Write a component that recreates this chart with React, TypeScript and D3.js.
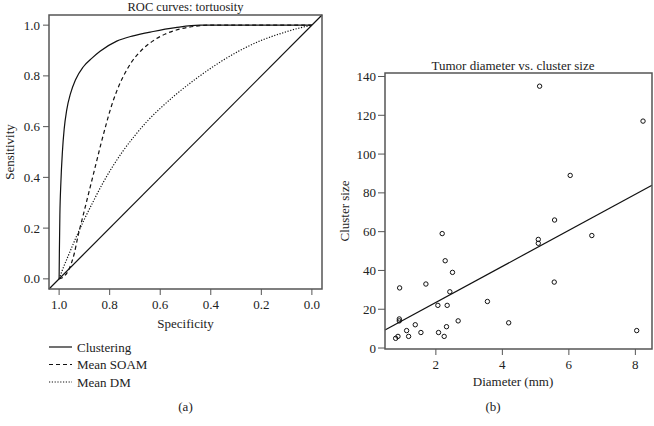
import * as React from "react";
import * as d3 from "d3";

// ROC curves, [specificity, sensitivity]
const clustering: [number, number][] = [
  [1, 0], [0.999, 0.1], [0.997, 0.25], [0.993, 0.38], [0.987, 0.5],
  [0.98, 0.59], [0.97, 0.665], [0.955, 0.73], [0.935, 0.785], [0.905, 0.835],
  [0.87, 0.87], [0.838, 0.897], [0.772, 0.937], [0.707, 0.958],
  [0.628, 0.975], [0.54, 0.99], [0.443, 1], [0, 1],
];
const meanSoam: [number, number][] = [
  [1, 0], [0.98, 0.01], [0.96, 0.04], [0.94, 0.1], [0.925, 0.17],
  [0.905, 0.25], [0.88, 0.35], [0.855, 0.45], [0.835, 0.53], [0.815, 0.605],
  [0.795, 0.675], [0.772, 0.74], [0.745, 0.8], [0.713, 0.855], [0.675, 0.9],
  [0.63, 0.937], [0.58, 0.965], [0.52, 0.985], [0.46, 0.996], [0.41, 1],
  [0, 1],
];
const meanDm: [number, number][] = [
  [1, 0], [0.985, 0.04], [0.96, 0.1], [0.93, 0.17], [0.9, 0.235],
  [0.865, 0.305], [0.83, 0.372], [0.79, 0.44], [0.75, 0.5], [0.7, 0.565],
  [0.65, 0.623], [0.6, 0.672], [0.54, 0.725], [0.45, 0.795], [0.37, 0.85],
  [0.285, 0.9], [0.2, 0.94], [0.12, 0.968], [0.06, 0.986], [0, 1],
];
const rocTicks = [1.0, 0.8, 0.6, 0.4, 0.2, 0.0];
const legendItems = [
  { label: "Clustering", dash: "none" },
  { label: "Mean SOAM", dash: "4,3" },
  { label: "Mean DM", dash: "1.2,1.6" },
];

// Tumor diameter (mm) vs. cluster size
const diameter = [
  0.79, 0.86, 0.91, 0.9, 0.9, 1.12, 1.18, 1.38, 1.55, 1.7, 2.06, 2.08, 2.19,
  2.25, 2.28, 2.32, 2.34, 2.42, 2.5, 2.67, 3.55, 4.19, 5.08, 5.08, 5.57, 5.56,
  6.69, 8.04, 5.12, 8.23, 6.04,
];
const clusterSize = [
  5, 6, 31, 15, 14, 9, 6, 12, 8, 33, 22, 8, 59, 6, 45, 11, 22, 29, 39, 14, 24,
  13, 56, 54, 66, 34, 58, 9, 135, 117, 89,
];
const fitIntercept = 4.9;
const fitSlope = 9.3;
const xTicksB = [2, 4, 6, 8];
const yTicksB = [0, 20, 40, 60, 80, 100, 120, 140];

const FONT = "'Liberation Serif', 'DejaVu Serif', serif";
const AXIS = "#555";

const RocPanel: React.FC = () => {
  const left = 49, right = 322, top = 15, bottom = 289;
  const x = d3.scaleLinear().domain([1.04, -0.04]).range([left, right]);
  const y = d3.scaleLinear().domain([-0.04, 1.04]).range([bottom, top]);
  const line = d3
    .line<[number, number]>()
    .curve(d3.curveMonotoneX)
    .x((d) => x(d[0]))
    .y((d) => y(d[1]));
  const series = [clustering, meanSoam, meanDm];

  return (
    <g fontFamily={FONT} fill="#222">
      <text x={(left + right) / 2} y={11} fontSize="12.5" textAnchor="middle">
        ROC curves: tortuosity
      </text>
      <line x1={x(1.04)} y1={y(-0.04)} x2={x(-0.04)} y2={y(1.04)} stroke="#111" strokeWidth="1.2" />
      {series.map((s, i) => (
        <path
          key={i}
          d={line(s) || ""}
          fill="none"
          stroke="#111"
          strokeWidth="1.2"
          strokeDasharray={legendItems[i].dash}
        />
      ))}
      <rect x={left} y={top} width={right - left} height={bottom - top} fill="none" stroke={AXIS} strokeWidth="1.5" />
      {rocTicks.map((t) => (
        <g key={"x" + t}>
          <line x1={x(t)} x2={x(t)} y1={bottom} y2={bottom + 6} stroke={AXIS} />
          <text x={x(t)} y={bottom + 20} fontSize="13" textAnchor="middle">
            {t.toFixed(1)}
          </text>
        </g>
      ))}
      {rocTicks.map((t) => (
        <g key={"y" + t}>
          <line x1={left - 6} x2={left} y1={y(t)} y2={y(t)} stroke={AXIS} />
          <text x={left - 9} y={y(t)} dy="0.35em" fontSize="13" textAnchor="end">
            {t.toFixed(1)}
          </text>
        </g>
      ))}
      <text x={(left + right) / 2} y={328} fontSize="13" textAnchor="middle">
        Specificity
      </text>
      <text
        transform={`translate(14,${(top + bottom) / 2}) rotate(-90)`}
        fontSize="13"
        textAnchor="middle"
      >
        Sensitivity
      </text>
      {legendItems.map((it, i) => (
        <g key={it.label} transform={`translate(49,${347 + i * 17.5})`}>
          <line x1={0} x2={23} y1={0} y2={0} stroke="#111" strokeWidth="1.2" strokeDasharray={it.dash} />
          <text x={28} y={0} dy="0.35em" fontSize="13">
            {it.label}
          </text>
        </g>
      ))}
      <text x={(left + right) / 2} y={411} fontSize="13" textAnchor="middle">
        (a)
      </text>
    </g>
  );
};

const ScatterPanel: React.FC = () => {
  const left = 385, right = 652, top = 73, bottom = 349;
  const x = d3.scaleLinear().domain([0.47, 8.5]).range([left, right]);
  const y = d3.scaleLinear().domain([-0.5, 141.8]).range([bottom, top]);
  const [d0, d1] = x.domain();

  return (
    <g fontFamily={FONT} fill="#222">
      <text x={513} y={70} fontSize="13" textAnchor="middle">
        Tumor diameter vs. cluster size
      </text>
      {diameter.map((d, i) => (
        <circle key={i} cx={x(d)} cy={y(clusterSize[i])} r={2.2} fill="none" stroke="#111" strokeWidth="1" />
      ))}
      <line
        x1={x(d0)}
        y1={y(fitIntercept + fitSlope * d0)}
        x2={x(d1)}
        y2={y(fitIntercept + fitSlope * d1)}
        stroke="#111"
        strokeWidth="1.2"
      />
      <rect x={left} y={top} width={right - left} height={bottom - top} fill="none" stroke={AXIS} strokeWidth="1.5" />
      {xTicksB.map((t) => (
        <g key={"x" + t}>
          <line x1={x(t)} x2={x(t)} y1={bottom} y2={bottom + 6} stroke={AXIS} />
          <text x={x(t)} y={bottom + 20} fontSize="13" textAnchor="middle">
            {t}
          </text>
        </g>
      ))}
      {yTicksB.map((t) => (
        <g key={"y" + t}>
          <line x1={left - 7} x2={left} y1={y(t)} y2={y(t)} stroke={AXIS} />
          <text x={left - 9} y={y(t)} dy="0.35em" fontSize="13" textAnchor="end">
            {t}
          </text>
        </g>
      ))}
      <text x={513} y={386} fontSize="13" textAnchor="middle">
        Diameter (mm)
      </text>
      <text
        transform={`translate(349,${(top + bottom) / 2}) rotate(-90)`}
        fontSize="13"
        textAnchor="middle"
      >
        Cluster size
      </text>
      <text x={493} y={411} fontSize="13" textAnchor="middle">
        (b)
      </text>
    </g>
  );
};

const App: React.FC = () => (
  <svg
    width={654}
    height={426}
    viewBox="0 0 654 426"
    style={{ position: "absolute", left: 0, top: 0, background: "#fff" }}
  >
    <RocPanel />
    <ScatterPanel />
  </svg>
);

export default App;
